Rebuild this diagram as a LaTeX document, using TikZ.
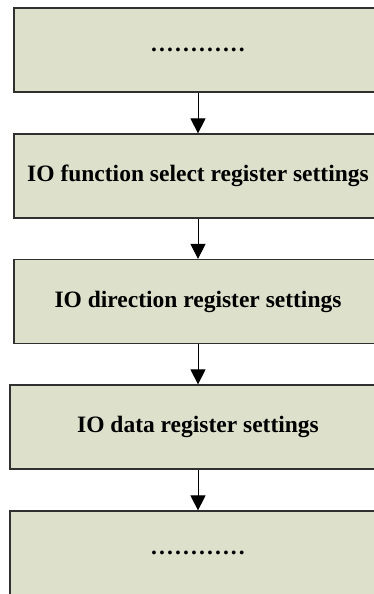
\documentclass[tikz,border=0pt]{standalone}
\usepackage{fontspec}
\setmainfont{Liberation Serif}
\newfontfamily\dotfont[LetterSpace=9]{Liberation Serif}
\usetikzlibrary{arrows.meta}
\definecolor{boxfill}{HTML}{DDE0CB}
\definecolor{boxline}{HTML}{303030}
\tikzset{
  flowbox/.style={draw=boxline, line width=1.2pt, fill=boxfill, rectangle,
    minimum height=84pt, inner sep=0pt, font=\bfseries\fontsize{23.5}{26}\selectfont},
  flowarrow/.style={draw=black, line width=0.9pt, -{Triangle[width=15pt,length=15pt]}}
}
\begin{document}
\begin{tikzpicture}[x=1pt,y=-1pt]
\useasboundingbox (0,0) rectangle (374,594);
\clip (0,0) rectangle (374,594);
\node[flowbox, minimum width=368pt] (b1) at (198,50) {\dotfont\bfseries ............};
\node[flowbox, minimum width=368pt] (b2) at (198,176) {IO function select register settings};
\node[flowbox, minimum width=368pt] (b3) at (198,301.5) {IO direction register settings};
\node[flowbox, minimum width=376pt] (b4) at (198,427) {IO data register settings};
\node[flowbox, minimum width=376pt] (b5) at (198,553) {\dotfont\bfseries ............};
\draw[flowarrow] (b1.south) -- (b2.north);
\draw[flowarrow] (b2.south) -- (b3.north);
\draw[flowarrow] (b3.south) -- (b4.north);
\draw[flowarrow] (b4.south) -- (b5.north);
\end{tikzpicture}
\end{document}
